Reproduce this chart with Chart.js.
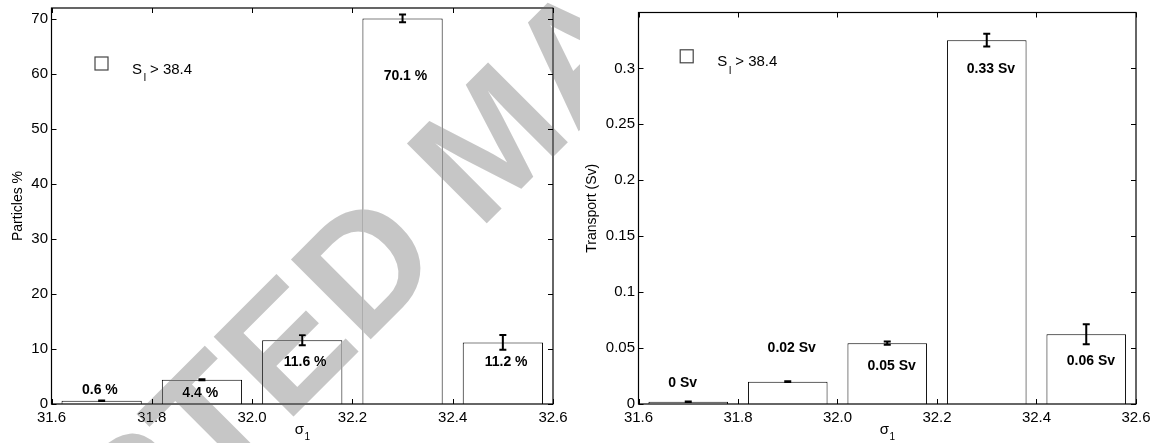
<!DOCTYPE html>
<html>
<head>
<meta charset="utf-8">
<script src="https://cdn.jsdelivr.net/npm/chart.js@4.4.1/dist/chart.umd.min.js"></script>
<style>
  html, body { margin: 0; padding: 0; background: #fff; }
  #wrap { position: relative; width: 1166px; height: 443px; }
  .panel { position: absolute; top: 0; height: 443px; }
  #p1 { left: 0; width: 580px; }
  #p2 { left: 580px; width: 586px; }
</style>
</head>
<body>
<div id="wrap">
  <div class="panel" id="p1"><canvas id="c1"></canvas></div>
  <div class="panel" id="p2"><canvas id="c2"></canvas></div>
</div>
<script>
// density classes: bin centres in sigma_1 and axis ticks
const sigmaBins = [31.7, 31.9, 32.1, 32.3, 32.5];
const sigmaTicks = [31.6, 31.8, 32.0, 32.2, 32.4, 32.6];

// share of particles in each class (%) and its uncertainty
const particlePct = [0.6, 4.4, 11.6, 70.1, 11.2];
const particleErr = [0.05, 0.1, 0.9, 0.7, 1.35];
const particleTicks = [0, 10, 20, 30, 40, 50, 60, 70];

// transport carried by each class (Sv) and its uncertainty
const transportSv = [0.002, 0.02, 0.0544, 0.3253, 0.0624];
const transportErr = [0.0003, 0.0003, 0.0015, 0.0058, 0.0089];
const transportTicks = [0, 0.05, 0.1, 0.15, 0.2, 0.25, 0.3];

// legend: S with subscript I, then threshold
const legendMain = 'S';
const legendSub = 'I';
const legendRest = '> 38.4';

const FONT = "'Liberation Sans', Arial, Helvetica, sans-serif";
Chart.defaults.font.family = FONT;
Chart.defaults.color = '#000';

function makeDeco(cfg) {
  return {
    id: 'deco_' + cfg.name,
    beforeDraw(chart) {
      const c = chart.ctx;
      c.save();
      c.fillStyle = '#fff';
      c.fillRect(0, 0, chart.width, chart.height);
      c.restore();
    },
    afterDatasetsDraw(chart) {
      const ctx = chart.ctx, xs = chart.scales.x, ys = chart.scales.y, a = chart.chartArea;
      ctx.save();

      // error bars
      ctx.strokeStyle = '#000';
      ctx.lineWidth = 2;
      cfg.values.forEach((v, i) => {
        const x = xs.getPixelForValue(sigmaBins[i]);
        const yHi = ys.getPixelForValue(v + cfg.errors[i]);
        const yLo = ys.getPixelForValue(v - cfg.errors[i]);
        ctx.beginPath();
        ctx.moveTo(x, yLo); ctx.lineTo(x, yHi);
        ctx.moveTo(x - 3.5, yLo); ctx.lineTo(x + 3.5, yLo);
        ctx.moveTo(x - 3.5, yHi); ctx.lineTo(x + 3.5, yHi);
        ctx.stroke();
      });

      // value labels
      ctx.fillStyle = '#000';
      ctx.font = 'bold 14px ' + FONT;
      ctx.textAlign = 'center';
      ctx.textBaseline = 'middle';
      cfg.values.forEach((v, i) => {
        const [dx, dy] = cfg.labelShift[i];
        ctx.fillText(cfg.fmt(v), xs.getPixelForValue(sigmaBins[i]) + dx, ys.getPixelForValue(v) + dy);
      });

      // axes box with inward ticks on all four sides
      ctx.strokeStyle = '#000';
      ctx.lineWidth = 1.2;
      ctx.strokeRect(a.left, a.top, a.right - a.left, a.bottom - a.top);
      ctx.lineWidth = 1;
      ctx.beginPath();
      xs.ticks.forEach(t => {
        const x = Math.round(xs.getPixelForValue(t.value)) + 0.5;
        ctx.moveTo(x, a.bottom); ctx.lineTo(x, a.bottom - 5);
        ctx.moveTo(x, a.top); ctx.lineTo(x, a.top + 5);
      });
      ys.ticks.forEach(t => {
        const y = Math.round(ys.getPixelForValue(t.value)) + 0.5;
        ctx.moveTo(a.left, y); ctx.lineTo(a.left + 5, y);
        ctx.moveTo(a.right, y); ctx.lineTo(a.right - 5, y);
      });
      ctx.stroke();

      // legend entry
      const lx = a.left + cfg.legendAt[0], ly = a.top + cfg.legendAt[1];
      ctx.fillStyle = '#fff';
      ctx.strokeStyle = '#444';
      ctx.lineWidth = 1.2;
      ctx.fillRect(lx, ly, 13, 13);
      ctx.strokeRect(lx, ly, 13, 13);
      ctx.fillStyle = '#000';
      ctx.textAlign = 'left';
      ctx.textBaseline = 'alphabetic';
      ctx.font = '15px ' + FONT;
      ctx.fillText(legendMain, lx + 37, ly + 16.5);
      ctx.font = '10px ' + FONT;
      ctx.fillText(legendSub, lx + 48.5, ly + 24);
      ctx.font = '15px ' + FONT;
      ctx.fillText(legendRest, lx + 55, ly + 16.5);

      // x-axis title: sigma with subscript 1
      ctx.font = '15px ' + FONT;
      const w1 = ctx.measureText('σ').width;
      ctx.font = '10px ' + FONT;
      const w2 = ctx.measureText('1').width;
      const cx = (a.left + a.right) / 2 - (w1 + w2) / 2;
      ctx.font = '15px ' + FONT;
      ctx.fillText('σ', cx, a.bottom + 29.5);
      ctx.font = '10px ' + FONT;
      ctx.fillText('1', cx + w1 + 0.5, a.bottom + 36);

      ctx.restore();
    },
    afterDraw(chart) {
      if (!cfg.stamp) return;
      const ctx = chart.ctx;
      ctx.save();
      ctx.globalCompositeOperation = 'darken';
      ctx.fillStyle = '#c6c6c6';
      ctx.font = 'bold 164px ' + FONT;
      ctx.textAlign = 'left';
      ctx.textBaseline = 'alphabetic';
      ctx.translate(-191, 901);
      ctx.rotate(-Math.PI / 4);
      ctx.fillText('ACCEPTED MANUSCRIPT', 0, 0);
      ctx.restore();
    }
  };
}

function buildPanel(canvasId, cfg) {
  return new Chart(document.getElementById(canvasId), {
    type: 'bar',
    data: {
      datasets: [{
        data: sigmaBins.map((x, i) => ({ x: x, y: cfg.values[i] })),
        backgroundColor: '#fff',
        borderColor: '#000',
        borderWidth: 1,
        barPercentage: 0.8,
        categoryPercentage: 1.0
      }]
    },
    options: {
      responsive: true,
      maintainAspectRatio: false,
      animation: false,
      layout: { padding: cfg.padding },
      plugins: { legend: { display: false }, tooltip: { enabled: false } },
      scales: {
        x: {
          type: 'linear',
          offset: false,
          min: sigmaTicks[0],
          max: sigmaTicks[sigmaTicks.length - 1],
          afterBuildTicks: s => { s.ticks = sigmaTicks.map(v => ({ value: v })); },
          afterFit: s => { s.height = 39; s.paddingLeft = 0; s.paddingRight = 0; },
          grid: { display: false, drawTicks: false, offset: false },
          border: { display: false },
          ticks: {
            padding: 5,
            maxRotation: 0,
            autoSkip: false,
            font: { size: 15 },
            callback: v => Number(v).toFixed(1)
          }
        },
        y: {
          type: 'linear',
          min: 0,
          max: cfg.yMax,
          afterBuildTicks: s => { s.ticks = cfg.yTicks.map(v => ({ value: v })); },
          afterFit: s => { s.width = cfg.yWidth; s.paddingTop = 0; s.paddingBottom = 0; },
          grid: { display: false, drawTicks: false },
          border: { display: false },
          ticks: {
            padding: 3.5,
            autoSkip: false,
            font: { size: 15 },
            callback: v => String(v)
          },
          title: {
            display: true,
            text: cfg.yTitle,
            font: { size: 14 },
            padding: { top: cfg.titlePad, bottom: 0 }
          }
        }
      }
    },
    plugins: [makeDeco(cfg)]
  });
}

buildPanel('c1', {
  name: 'particles',
  values: particlePct,
  errors: particleErr,
  yTicks: particleTicks,
  yMax: 72,
  yTitle: 'Particles %',
  yWidth: 51.5,
  titlePad: 10,
  padding: { left: 0, top: 8, right: 27, bottom: 0 },
  fmt: v => v.toFixed(1) + ' %',
  labelShift: [[-1.8, -10.7], [-1.7, 13.2], [2.9, 21.5], [2.9, 57.6], [3.3, 19.3]],
  legendAt: [43.5, 49],
  stamp: true
});

buildPanel('c2', {
  name: 'transport',
  values: transportSv,
  errors: transportErr,
  yTicks: transportTicks,
  yMax: 0.35,
  yTitle: 'Transport (Sv)',
  yWidth: 58.5,
  titlePad: 3.6,
  padding: { left: 0, top: 12.5, right: 30, bottom: 0 },
  fmt: v => Number(v.toFixed(2)) + ' Sv',
  labelShift: [[-5.6, -18.7], [4, -33], [4.4, 22.7], [4.2, 29], [4.7, 26.7]],
  legendAt: [41.7, 37.3],
  stamp: false
});
</script>
</body>
</html>
